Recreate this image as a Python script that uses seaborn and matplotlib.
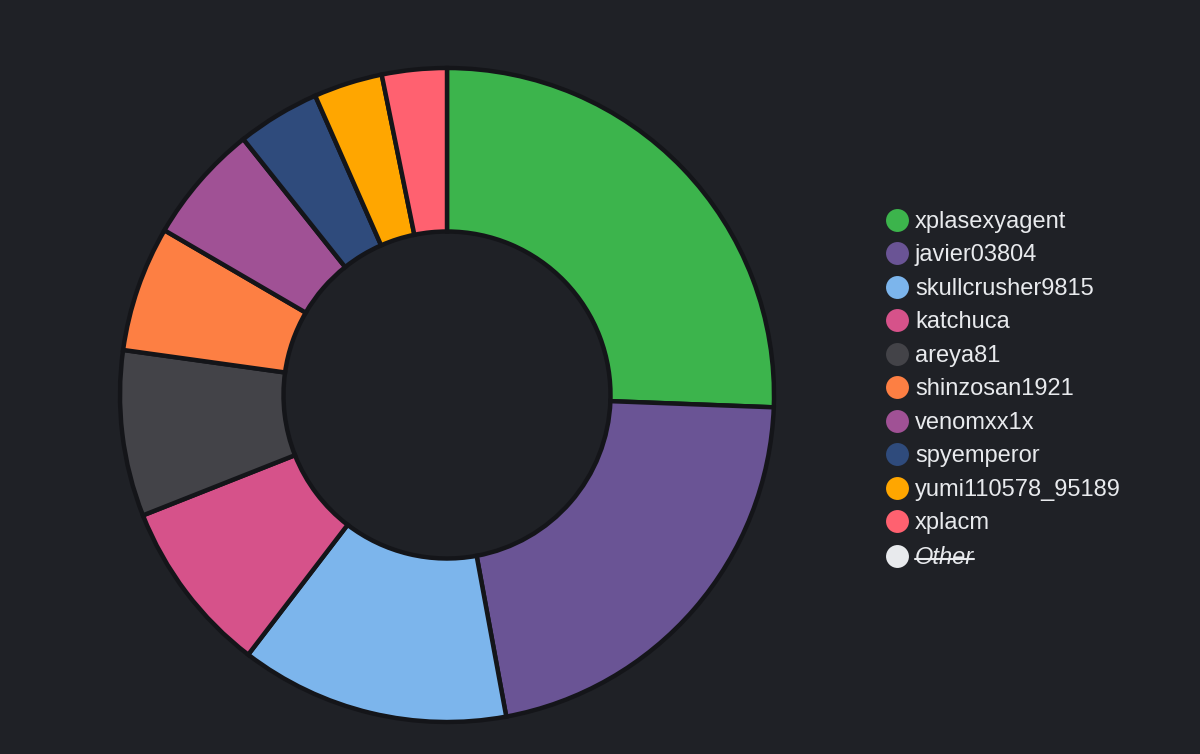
import matplotlib
matplotlib.use("Agg")
import matplotlib.pyplot as plt
from matplotlib.lines import Line2D
import seaborn as sns

names = ["xplasexyagent", "javier03804", "skullcrusher9815", "katchuca", "areya81",
         "shinzosan1921", "venomxx1x", "spyemperor", "yumi110578_95189", "xplacm"]
values = [25.6, 21.5, 13.3, 8.6, 8.2, 6.2, 5.9, 4.1, 3.4, 3.2]
colors = ["#3cb44c", "#6a5495", "#7cb5ec", "#d6528a", "#434348",
          "#fd7f43", "#a05195", "#2f4b7c", "#ffa600", "#ff6170"]
hidden_name = "Other"
hidden_color = "#e8eaed"

BG = "#1f2126"
EDGE = "#141519"
TXT = "#e8eaed"

sns.set_theme(style="dark")
plt.rcParams['font.family'] = ['Liberation Sans', 'DejaVu Sans']

fig = plt.figure(figsize=(12, 7.54), dpi=100, facecolor=BG)
H = 719.4
ax = fig.add_axes([(447 - H / 2) / 1200, (754 - 395 - H / 2) / 754, H / 1200, H / 754])
ax.set_facecolor(BG)
wedges, _ = ax.pie(values, colors=colors, startangle=90, counterclock=False,
                   radius=1.0,
                   wedgeprops=dict(width=0.5, edgecolor=EDGE, linewidth=3.2, joinstyle="miter"))
ax.set_xlim(-1.1, 1.1)
ax.set_ylim(-1.1, 1.1)
ax.set_aspect("equal")
ax.axis("off")

handles = [Line2D([], [], marker="o", linestyle="none", markersize=16.5,
                  markerfacecolor=c, markeredgewidth=0) for c in colors]
handles.append(Line2D([], [], marker="o", linestyle="none", markersize=16.5,
                      markerfacecolor=hidden_color, markeredgewidth=0))
labels = names + [hidden_name]
leg = fig.legend(handles, labels, loc="upper left",
                 bbox_to_anchor=(885 / 1200, 1 - 211 / 754),
                 frameon=False, fontsize=17, labelcolor=TXT,
                 handlelength=1.0, handletextpad=0.27, labelspacing=0.487,
                 borderpad=0, borderaxespad=0)
other_text = leg.get_texts()[-1]
other_text.set_fontstyle("italic")

fig.canvas.draw()
r = fig.canvas.get_renderer()
bb = other_text.get_window_extent(r)
ymid = bb.y0 + bb.height * 0.45
fig.add_artist(Line2D([bb.x0 / 1200, bb.x1 / 1200], [ymid / 754, ymid / 754],
                      color=TXT, linewidth=1.5, transform=fig.transFigure))

fig.savefig("out.png", dpi=100, facecolor=BG)
